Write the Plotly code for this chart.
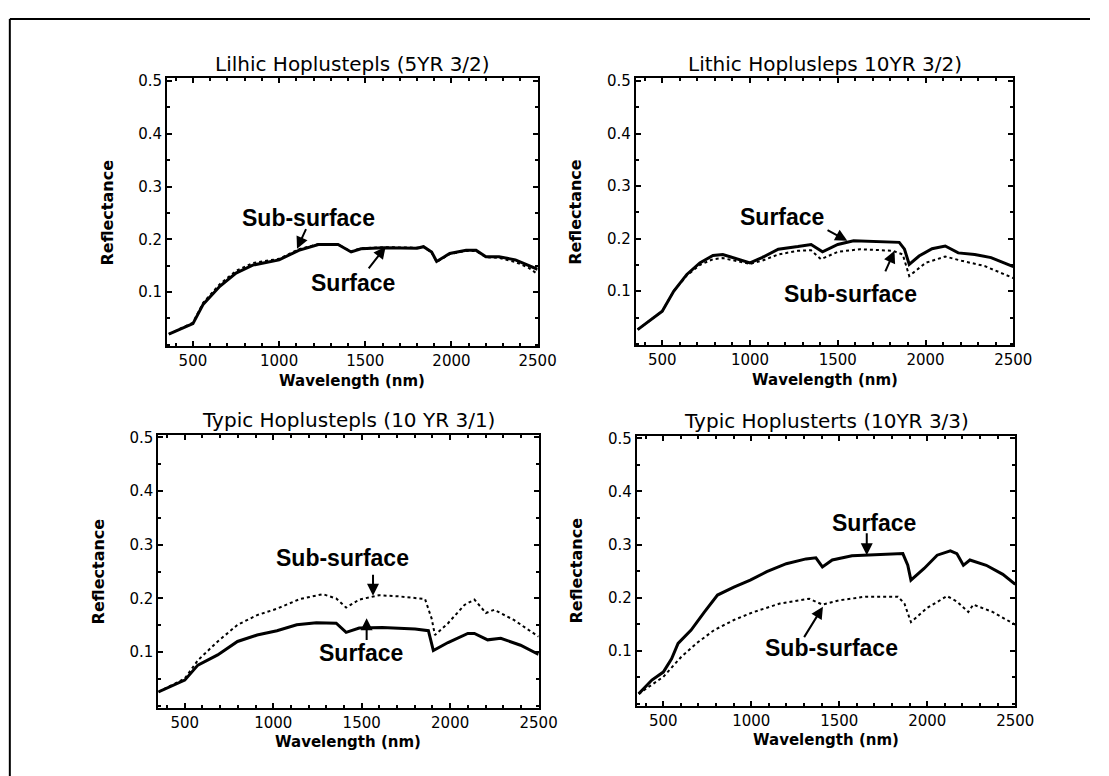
import plotly.graph_objects as go

W, H = 1109, 776

# ---------------- data ----------------
# Panel 1: Lithic Hoplustepts (5YR 3/2)
p1_wl_surf = [360, 500, 560, 656, 750, 847, 1000, 1114, 1228, 1342, 1418, 1475, 1610, 1800, 1838, 1885, 1914, 1990, 2085, 2143, 2200, 2276, 2371, 2447, 2500]
p1_surf    = [0.020, 0.040, 0.077, 0.111, 0.136, 0.151, 0.161, 0.179, 0.190, 0.190, 0.176, 0.182, 0.184, 0.183, 0.186, 0.176, 0.158, 0.173, 0.179, 0.179, 0.167, 0.167, 0.161, 0.151, 0.143]
p1_wl_sub  = [360, 500, 560, 656, 750, 847, 1000, 1114, 1228, 1342, 1418, 1475, 1610, 1800, 1838, 1885, 1914, 1990, 2085, 2143, 2200, 2276, 2371, 2447, 2500]
p1_sub     = [0.020, 0.042, 0.080, 0.115, 0.140, 0.155, 0.163, 0.181, 0.191, 0.190, 0.177, 0.183, 0.185, 0.184, 0.186, 0.175, 0.157, 0.172, 0.178, 0.178, 0.166, 0.165, 0.157, 0.146, 0.134]

# Panel 2: Lithic Hoplustepts 10YR 3/2)
p2_wl_surf = [360, 500, 565, 640, 714, 789, 845, 919, 1000, 1068, 1161, 1273, 1348, 1413, 1500, 1590, 1720, 1850, 1880, 1907, 1963, 2037, 2112, 2186, 2280, 2373, 2500]
p2_surf    = [0.027, 0.062, 0.100, 0.132, 0.154, 0.168, 0.170, 0.162, 0.154, 0.164, 0.180, 0.185, 0.189, 0.175, 0.189, 0.196, 0.194, 0.193, 0.180, 0.151, 0.167, 0.181, 0.186, 0.173, 0.170, 0.164, 0.147]
p2_wl_sub  = [360, 500, 565, 640, 714, 789, 845, 919, 1000, 1068, 1161, 1273, 1348, 1404, 1500, 1627, 1813, 1870, 1907, 2000, 2112, 2205, 2336, 2500]
p2_sub     = [0.027, 0.062, 0.100, 0.130, 0.150, 0.161, 0.163, 0.158, 0.152, 0.158, 0.170, 0.177, 0.178, 0.161, 0.175, 0.180, 0.177, 0.170, 0.129, 0.154, 0.166, 0.158, 0.148, 0.125]

# Panel 3: Typic Hoplustepts (10 YR 3/1)
p3_wl_surf = [351, 500, 574, 686, 798, 909, 1021, 1133, 1244, 1356, 1412, 1486, 1616, 1802, 1877, 1905, 1988, 2100, 2137, 2212, 2286, 2398, 2500]
p3_surf    = [0.026, 0.048, 0.076, 0.095, 0.120, 0.132, 0.140, 0.151, 0.155, 0.154, 0.137, 0.145, 0.146, 0.143, 0.140, 0.103, 0.118, 0.135, 0.135, 0.123, 0.126, 0.113, 0.096]
p3_wl_sub  = [351, 500, 574, 686, 798, 909, 1021, 1151, 1281, 1356, 1412, 1486, 1598, 1709, 1858, 1895, 1914, 1988, 2081, 2137, 2202, 2249, 2360, 2500]
p3_sub     = [0.026, 0.051, 0.085, 0.120, 0.151, 0.169, 0.181, 0.199, 0.208, 0.200, 0.183, 0.198, 0.206, 0.204, 0.199, 0.163, 0.132, 0.154, 0.188, 0.198, 0.173, 0.179, 0.160, 0.129]

# Panel 4: Typic Hoplusterts (10YR 3/3)
p4_wl_surf = [360, 435, 500, 547, 584, 658, 733, 808, 901, 994, 1088, 1199, 1311, 1367, 1404, 1460, 1572, 1721, 1861, 1889, 1907, 1982, 2056, 2131, 2168, 2205, 2242, 2335, 2429, 2500]
p4_surf    = [0.019, 0.045, 0.060, 0.085, 0.114, 0.139, 0.173, 0.205, 0.220, 0.233, 0.249, 0.264, 0.273, 0.275, 0.258, 0.271, 0.279, 0.281, 0.283, 0.261, 0.233, 0.255, 0.280, 0.288, 0.283, 0.261, 0.271, 0.261, 0.244, 0.225]
p4_wl_sub  = [360, 500, 603, 696, 789, 901, 1013, 1162, 1330, 1404, 1500, 1649, 1833, 1870, 1907, 2000, 2112, 2168, 2233, 2261, 2373, 2500]
p4_sub     = [0.019, 0.051, 0.089, 0.116, 0.139, 0.158, 0.173, 0.189, 0.198, 0.187, 0.195, 0.202, 0.202, 0.189, 0.154, 0.181, 0.203, 0.193, 0.173, 0.187, 0.173, 0.149]

titles = ["Lilhic Hoplustepls (5YR 3/2)", "Lithic Hoplusleps 10YR 3/2)",
          "Typic Hoplustepls (10 YR 3/1)", "Typic Hoplusterts (10YR 3/3)"]
x_ticks = [500, 1000, 1500, 2000, 2500]
y_ticks = [0.1, 0.2, 0.3, 0.4, 0.5]
x_title = "Wavelength (nm)"
y_title = "Reflectance"

# label positions (text, text_x, text_y, arrow_tail_x, arrow_tail_y, head_x, head_y)
labels = [
    [("Sub-surface", 1170, 0.241, 1160, 0.222, 1104, 0.182), ("Surface", 1428, 0.117, 1513, 0.142, 1618, 0.186)],
    [("Surface", 1184, 0.242, 1433, 0.218, 1554, 0.196), ("Sub-surface", 1572, 0.094, 1767, 0.135, 1823, 0.177)],
    [("Sub-surface", 1393, 0.275, 1564, 0.247, 1564, 0.205), ("Surface", 1498, 0.099, 1528, 0.120, 1528, 0.163)],
    [("Surface", 1698, 0.340, 1656, 0.324, 1656, 0.280), ("Sub-surface", 1456, 0.106, 1295, 0.123, 1407, 0.183)],
]

# ---------------- layout geometry (pixels) ----------------
boxes = [  # left, right, top, bottom
    (170, 547, 73, 343),
    (647, 1031, 73, 342),
    (161, 548, 432, 707),
    (648, 1033, 433, 705),
]

surf = [(p1_wl_surf, p1_surf), (p2_wl_surf, p2_surf), (p3_wl_surf, p3_surf), (p4_wl_surf, p4_surf)]
subs = [(p1_wl_sub, p1_sub), (p2_wl_sub, p2_sub), (p3_wl_sub, p3_sub), (p4_wl_sub, p4_sub)]

fig = go.Figure()
layout = dict(width=W, height=H, margin=dict(l=0, r=0, t=0, b=0),
              paper_bgcolor="white", plot_bgcolor="white", showlegend=False,
              font=dict(family="DejaVu Sans", color="black"))
annotations = []
shapes = []

for i in range(4):
    n = "" if i == 0 else str(i + 1)
    xa, ya = "x" + n, "y" + n
    l, r, t, b = boxes[i]
    fig.add_trace(go.Scatter(x=subs[i][0], y=subs[i][1], mode="lines", xaxis=xa, yaxis=ya,
                             line=dict(color="black", width=2, dash="dot")))
    fig.add_trace(go.Scatter(x=surf[i][0], y=surf[i][1], mode="lines", xaxis=xa, yaxis=ya,
                             line=dict(color="black", width=3)))
    axcommon = dict(showline=True, linecolor="black", linewidth=2, mirror="ticks",
                    ticks="inside", ticklen=5, tickwidth=1.5, tickcolor="black",
                    showgrid=False, zeroline=False,
                    tickfont=dict(family="DejaVu Sans", size=15, color="black"))
    layout["xaxis" + n] = dict(axcommon, domain=[l / W, r / W], anchor=ya, range=[350, 2500],
                               tickvals=x_ticks, ticktext=[str(v) for v in x_ticks],
                               minor=dict(tickvals=list(range(400, 2500, 100)), ticklen=3,
                                          tickcolor="black", ticks="inside"))
    layout["yaxis" + n] = dict(axcommon, domain=[1 - b / H, 1 - t / H], anchor=xa, range=[-0.003, 0.505],
                               tickvals=y_ticks, ticktext=["%.1f" % v for v in y_ticks],
                               minor=dict(dtick=0.05, ticklen=3, tickcolor="black", ticks="inside"))
    # title
    annotations.append(dict(text=titles[i], xref="paper", yref="paper", x=(l + r) / 2 / W,
                            y=1 - (t - 15) / H, showarrow=False, xanchor="center", yanchor="middle",
                            font=dict(family="DejaVu Sans", size=20, color="black")))
    # x title
    annotations.append(dict(text=x_title, xref="paper", yref="paper", x=(l + r) / 2 / W,
                            y=1 - (b + 35) / H, showarrow=False, xanchor="center", yanchor="middle",
                            font=dict(family="DejaVu Sans", size=15, color="black", weight="bold")))
    # y title
    annotations.append(dict(text=y_title, xref="paper", yref="paper", x=(l - 61) / W,
                            y=1 - (t + b) / 2 / H, showarrow=False, xanchor="center", yanchor="middle",
                            textangle=-90,
                            font=dict(family="DejaVu Sans", size=16, color="black", weight="bold")))
    for (txt, tx, ty, axx, ayy, hx, hy) in labels[i]:
        annotations.append(dict(text="<b>%s</b>" % txt, x=tx, y=ty, xref=xa, yref=ya, showarrow=False,
                                font=dict(family="Liberation Sans", size=23, color="black")))
        annotations.append(dict(text="", x=hx, y=hy, ax=axx, ay=ayy, xref=xa, yref=ya,
                                axref=xa, ayref=ya, showarrow=True, arrowhead=2, arrowsize=1.2,
                                arrowwidth=2, arrowcolor="black"))

# outer frame (top and left edges)
shapes.append(dict(type="line", xref="paper", yref="paper", x0=10 / W, x1=1.0, y0=1 - 13 / H, y1=1 - 13 / H,
                   line=dict(color="black", width=2)))
shapes.append(dict(type="line", xref="paper", yref="paper", x0=10 / W, x1=10 / W, y0=1 - 13 / H, y1=0,
                   line=dict(color="black", width=2)))

layout["annotations"] = annotations
layout["shapes"] = shapes
fig.update_layout(**layout)
fig.write_html("out.html")
